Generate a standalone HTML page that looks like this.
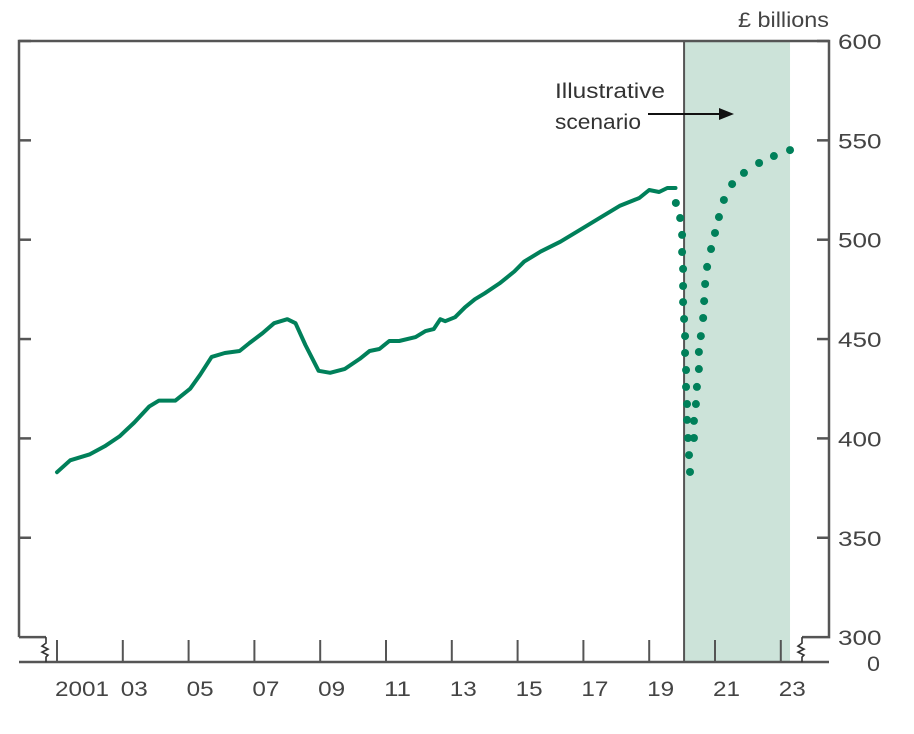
<!DOCTYPE html>
<html><head><meta charset="utf-8"><style>
html,body{margin:0;padding:0;background:#fff;}
svg{display:block;font-family:"Liberation Sans",sans-serif;}
</style></head><body>
<svg id="chart" width="914" height="734" viewBox="0 0 914 734" xmlns="http://www.w3.org/2000/svg">
<g id="shade"></g>
<g id="frame"></g>
<g id="series"></g>
<g id="labels"></g>
</svg>
<script>
const years = [2001.0,2001.4,2002.0,2002.45,2002.9,2003.35,2003.8,2004.1,2004.6,2005.05,2005.35,2005.7,2006.1,2006.55,2006.85,2007.25,2007.6,2008.0,2008.25,2008.55,2008.95,2009.3,2009.75,2010.2,2010.5,2010.8,2011.1,2011.4,2011.9,2012.2,2012.45,2012.65,2012.8,2013.1,2013.4,2013.7,2014.0,2014.45,2014.9,2015.2,2015.7,2016.3,2016.9,2017.5,2018.1,2018.7,2019.0,2019.3,2019.55,2019.8];
const values = [383,389,392,396,401,408,416,419,419,425,432,441,443,444,448,453,458,460,458,447,434,433,435,440,444,445,449,449,451,454,455,460,459,461,466,470,473,478,484,489,494,499,505,511,517,521,525,524,526,526];
const dotYears = [2019.81,2019.94,2020.0,2020.0,2020.03,2020.03,2020.03,2020.06,2020.09,2020.09,2020.12,2020.12,2020.15,2020.15,2020.18,2020.21,2020.24,2020.36,2020.36,2020.42,2020.45,2020.51,2020.51,2020.57,2020.64,2020.67,2020.70,2020.76,2020.88,2021.0,2021.12,2021.27,2021.52,2021.88,2022.34,2022.79,2023.28];
const dotValues = [518.5,510.9,502.4,493.8,485.3,476.7,468.6,460.1,451.5,443.0,434.4,425.9,417.3,409.3,400.2,391.6,383.1,400.2,408.8,417.3,425.9,434.9,443.5,451.5,460.6,469.1,477.7,486.3,495.3,503.4,511.4,520.0,528.0,533.6,538.6,542.1,545.1];
const yTicks = [600,550,500,450,400,350,300];
const xTickYears = [2001,2003,2005,2007,2009,2011,2013,2015,2017,2019,2021,2023];
const xTickLabels = ["2001","03","05","07","09","11","13","15","17","19","21","23"];
const scenarioStart = 2020.06, scenarioEnd = 2023.28;

const NS="http://www.w3.org/2000/svg";
const X = y => 57 + (y-2001)*32.9;
const Y = v => 41 + (600-v)*1.987;
const L=19,R=829,T=41,Z=662;
function mk(tag,attrs,parent){const e=document.createElementNS(NS,tag);for(const k in attrs)e.setAttribute(k,attrs[k]);parent.appendChild(e);return e;}
const shade=document.getElementById('shade'),frame=document.getElementById('frame'),series=document.getElementById('series'),labels=document.getElementById('labels');

const sh=mk('rect',{x:X(scenarioStart),y:T,width:X(scenarioEnd)-X(scenarioStart),height:Z-T,fill:'#cce3d9'},shade);


const BY=Y(300);
const st={stroke:'#555',"stroke-width":2.5,fill:'none'};
const fr=mk('path',Object.assign({d:`M${L} ${BY} L${L} ${T} L${R} ${T} L${R} ${BY} L${R-27} ${BY} M${L} ${BY} L${L+27} ${BY}`},st),frame);


const zl=mk('line',Object.assign({x1:L,x2:R,y1:Z,y2:Z},st),frame);


const vl=mk('line',{x1:X(scenarioStart),x2:X(scenarioStart),y1:T,y2:Z,stroke:'#555','stroke-width':2},frame);


[46,802].forEach((bx,i)=>{
  const b=mk('path',{d:`M${bx} ${BY} l0 6 l-4 3 l6 3 l-6 3 l6 3 l-2 2 l0 5`,stroke:'#333','stroke-width':1.6,fill:'none'},frame);
  
  
});
yTicks.forEach(v=>{
  if(v>300){
    const t1=mk('line',{x1:L,x2:L+12,y1:Y(v),y2:Y(v),stroke:'#555','stroke-width':2.5},frame);
    
    
    const t2=mk('line',{x1:R-12,x2:R,y1:Y(v),y2:Y(v),stroke:'#555','stroke-width':2.5},frame);
    
    
  }
  const tx=mk('text',{x:838,y:Y(v)+8,'font-size':21,fill:'#444',textLength:String(v).length*14.5,lengthAdjust:'spacingAndGlyphs'},labels);
  tx.textContent=v;
  
  
});
const z0=mk('text',{x:867,y:Z+9,'font-size':21,fill:'#444',textLength:13,lengthAdjust:'spacingAndGlyphs'},labels);
z0.textContent='0';


xTickYears.forEach((yr,i)=>{
  const t=mk('line',{x1:X(yr),x2:X(yr),y1:Z,y2:Z-22,stroke:'#555','stroke-width':2},frame);
  
  
  const s=xTickLabels[i];
  const tx=mk('text',{x:X(yr)-2,y:Z+34,'font-size':21,fill:'#444',textLength:s.length*13.5,lengthAdjust:'spacingAndGlyphs'},labels);
  tx.textContent=s;
  
  
});
const unit=mk('text',{x:738,y:27,'font-size':21,fill:'#444',textLength:91,lengthAdjust:'spacingAndGlyphs'},labels);
unit.textContent='£ billions';


const a1=mk('text',{x:555,y:98,'font-size':21,fill:'#333',textLength:110,lengthAdjust:'spacingAndGlyphs'},labels);
a1.textContent='Illustrative';


const a2=mk('text',{x:555,y:129,'font-size':21,fill:'#333',textLength:86,lengthAdjust:'spacingAndGlyphs'},labels);
a2.textContent='scenario';


const ar=mk('line',{x1:648,x2:722,y1:114,y2:114,stroke:'#111','stroke-width':2},labels);


const ah=mk('path',{d:'M734 114 L719 108 L719 120 Z',fill:'#111'},labels);



const d=years.map((y,i)=>(i?'L':'M')+X(y).toFixed(1)+' '+Y(values[i]).toFixed(1)).join(' ');
const line=mk('path',{d:d,stroke:'#00805a','stroke-width':4,fill:'none','stroke-linejoin':'round','stroke-linecap':'round'},series);


dotYears.forEach((y,i)=>{
  const c=mk('circle',{cx:X(y),cy:Y(dotValues[i]),r:4,fill:'#00805a'},series);
  
  
});
</script>
</body></html>
